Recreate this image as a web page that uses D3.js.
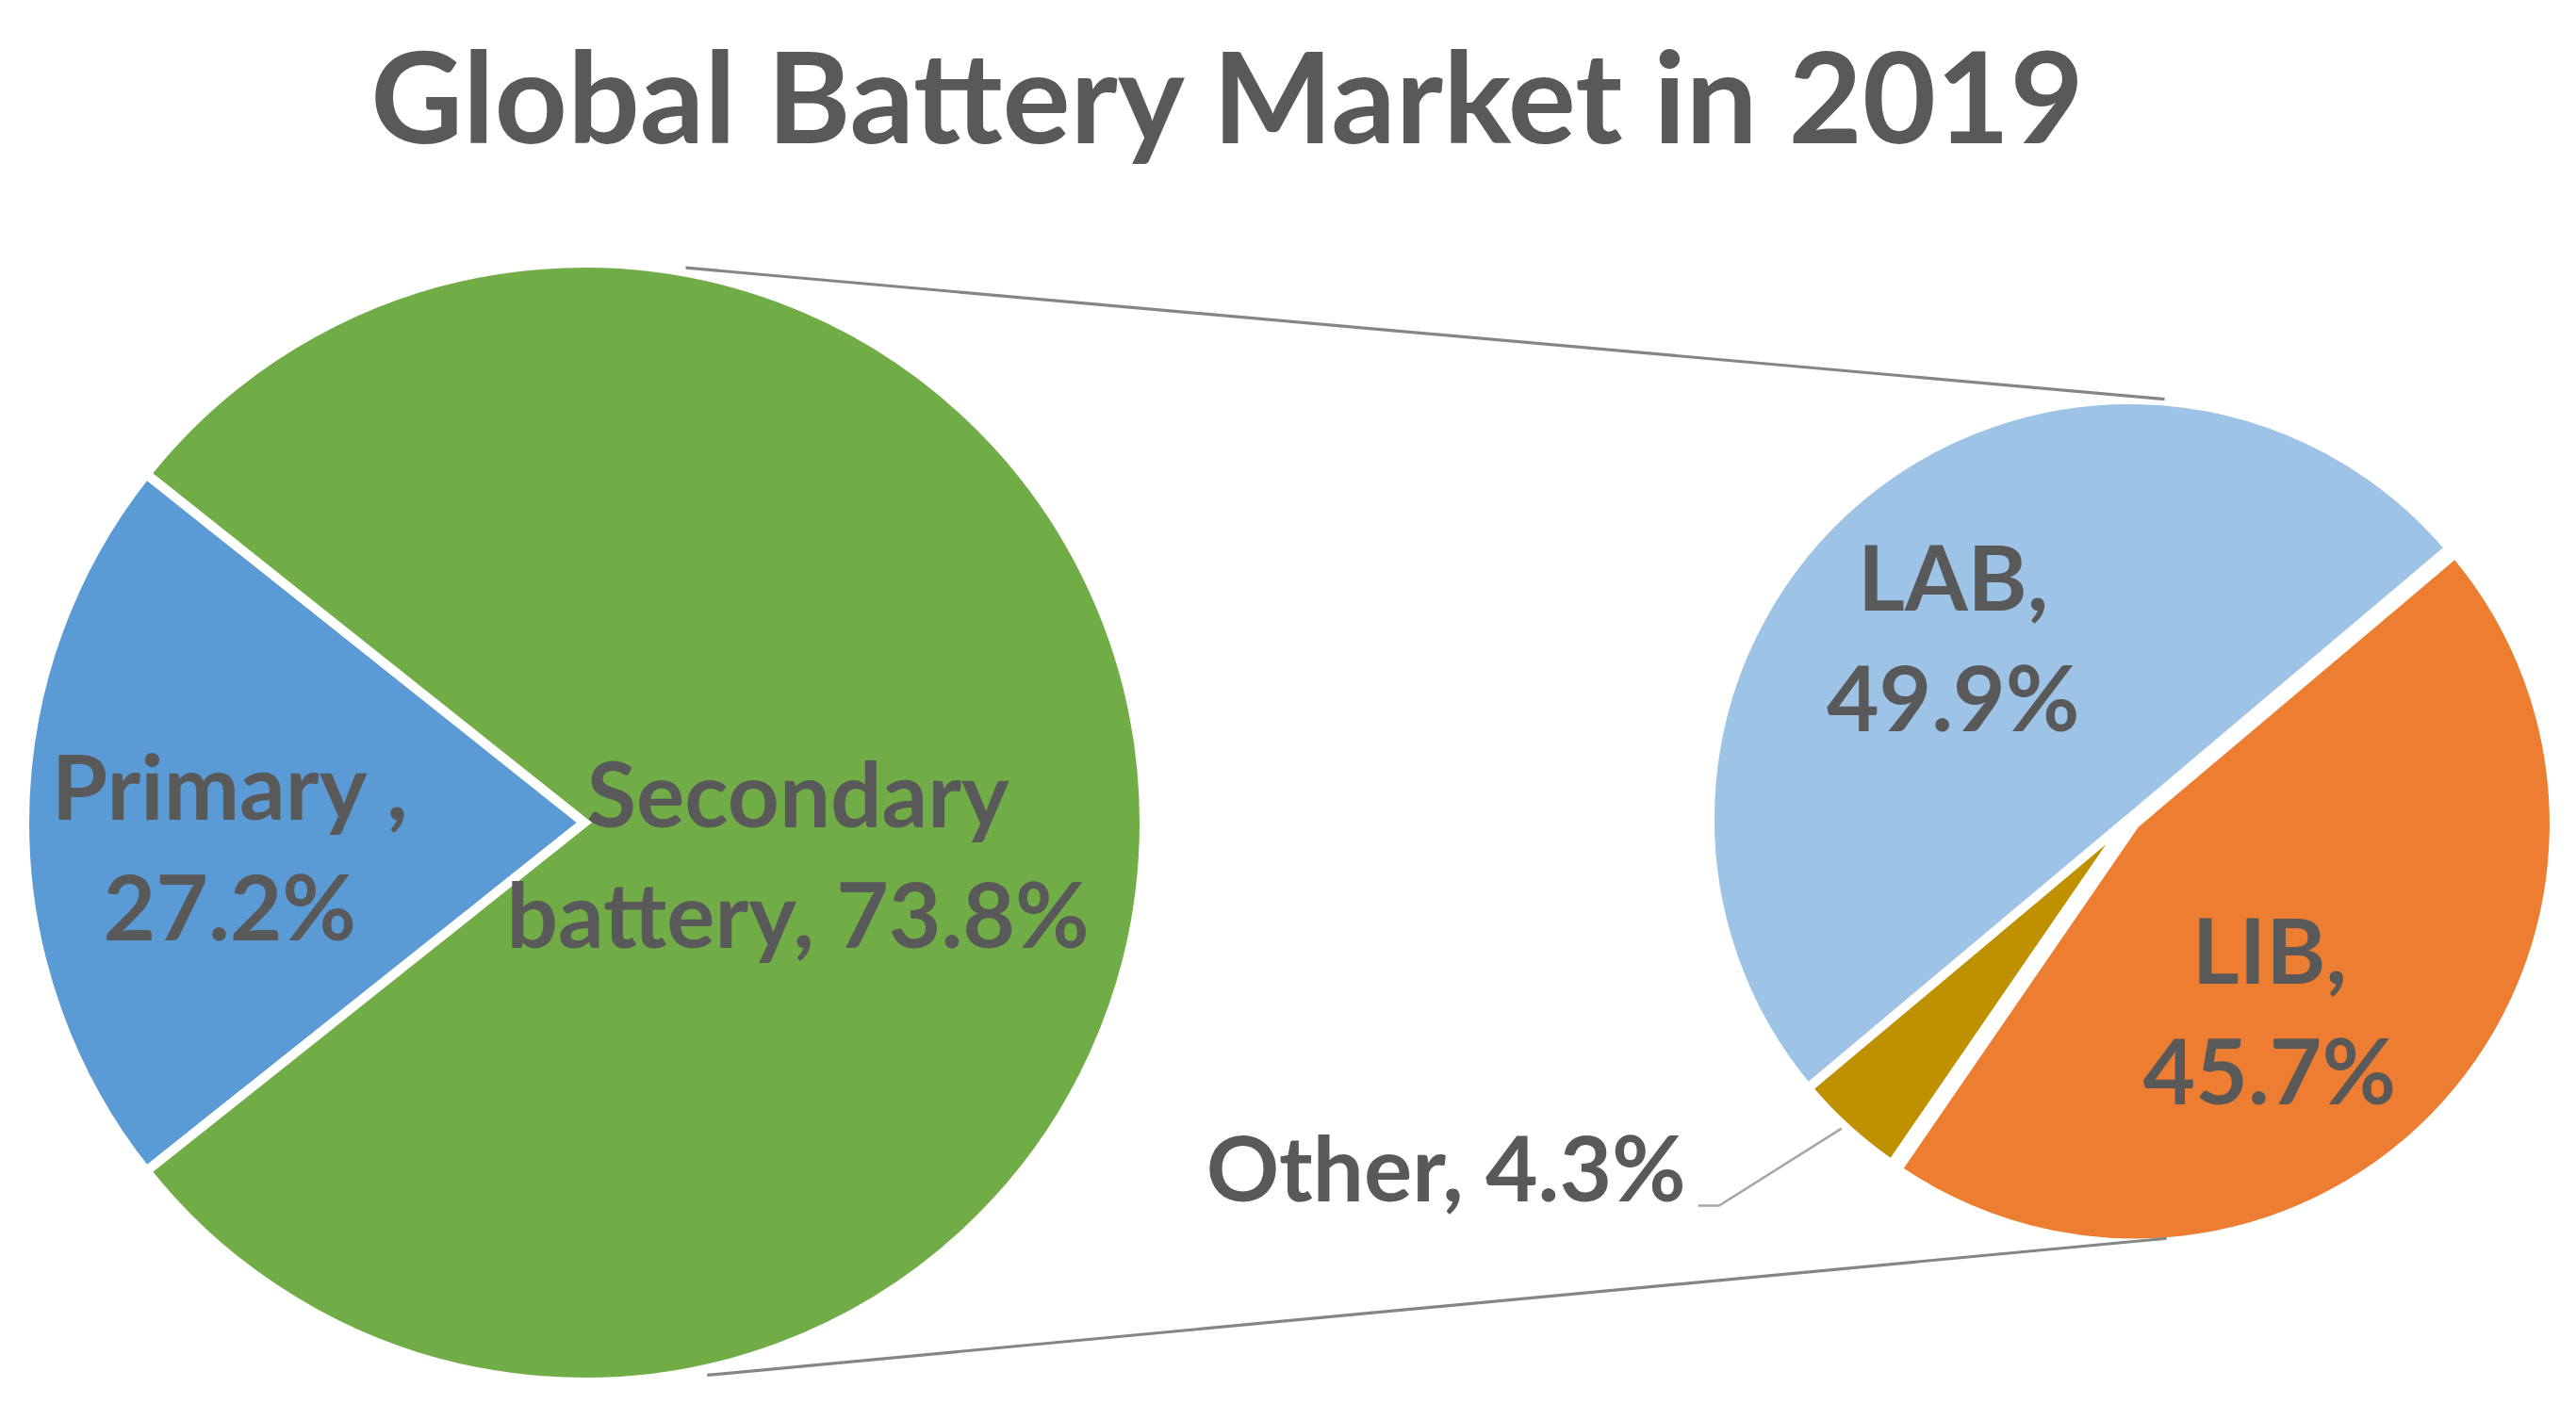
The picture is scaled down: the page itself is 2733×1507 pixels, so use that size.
<!DOCTYPE html>
<html><head><meta charset="utf-8">
<script src="https://cdn.jsdelivr.net/npm/d3@7"></script>
<style>html,body{margin:0;padding:0;background:#fff;overflow:hidden}</style>
</head><body><svg id="chart" width="2733" height="1507"></svg>
<script>
// ---- data ----
const chartTitle = "Global Battery Market in 2019";
const primaryValue = 27.2;
const mainLabelLines = [["Primary ,", "27.2%"], ["Secondary", "battery, 73.8%"]];
const subCategories = ["LAB", "LIB", "Other"];
const subValues = [49.9, 45.7, 4.3];
const subLabelLines = [["LAB,", "49.9%"], ["LIB,", "45.7%"], ["Other, 4.3%"]];
const mainColors = ["#5B9BD5", "#70AD47"];
const subColors = ["#9DC3E6", "#ED7D31", "#BF9000"];

// ---- layout ----
const W = 2733, H = 1507;
const deg = Math.PI / 180;
const big = {cx: 620, cy: 873, r: 594};
const small = {cx: 2259, cy: 869, r: 445};
const borderW = 10;
const textColor = "#595959";
const fontFam = "Lato, 'Open Sans', sans-serif";
const labelSize = 96, lineH = 128;

const svg = d3.select("#chart");
svg.append("rect").attr("width", W).attr("height", H).attr("fill", "#fff");

// title
svg.append("text").attr("x", 1302).attr("y", 152)
  .attr("text-anchor", "middle").attr("font-family", fontFam)
  .attr("font-weight", 700).attr("font-size", 135).attr("fill", textColor)
  .text(chartTitle);

// ---- main pie ----
const secondaryTotal = d3.sum(subValues);
const mainValues = [primaryValue, secondaryTotal];
const primaryHalf = Math.PI * primaryValue / (primaryValue + secondaryTotal);
const mainPie = d3.pie().sort(null).value(d => d)
  .startAngle(1.5 * Math.PI - primaryHalf).endAngle(3.5 * Math.PI - primaryHalf);
const mainArcs = mainPie(mainValues);
const bigArc = d3.arc().innerRadius(0).outerRadius(big.r);
const gBig = svg.append("g").attr("transform", `translate(${big.cx},${big.cy})`);
gBig.selectAll("path").data(mainArcs).join("path")
  .attr("d", bigArc).attr("fill", (d, i) => mainColors[i])
  .attr("stroke", "#fff").attr("stroke-width", borderW);

// ---- secondary pie ----
const subPie = d3.pie().sort(null).value(d => d)
  .startAngle(-130 * deg).endAngle(230 * deg);
const subArcs = subPie(subValues);
const smallArc = d3.arc().innerRadius(0).outerRadius(small.r);
const explode = [0, 8, 0];
const gSmall = svg.append("g").attr("transform", `translate(${small.cx},${small.cy})`);
function offs(d, e) {
  const a = (d.startAngle + d.endAngle) / 2;
  return [Math.sin(a) * e, -Math.cos(a) * e];
}
gSmall.selectAll("path").data(subArcs).join("path")
  .attr("d", smallArc)
  .attr("transform", (d, i) => { const o = offs(d, explode[i]); return `translate(${o[0]},${o[1]})`; })
  .attr("fill", (d, i) => subColors[i])
  .attr("stroke", "#fff").attr("stroke-width", borderW);

// ---- series lines (external tangents between the two pies) ----
(function () {
  const r1 = big.r - borderW / 2, r2 = small.r - borderW / 2;
  const dx = small.cx - big.cx, dy = small.cy - big.cy;
  const D = Math.hypot(dx, dy);
  const ux = dx / D, uy = dy / D;
  const c = (r1 - r2) / D, s = Math.sqrt(1 - c * c);
  [1, -1].forEach(sign => {
    const nx = c * ux + sign * s * uy, ny = c * uy - sign * s * ux;
    const gap = 7;
    const t1 = [big.cx + (r1 + gap) * nx, big.cy + (r1 + gap) * ny];
    const t2 = [small.cx + (r2 + gap) * nx, small.cy + (r2 + gap) * ny];
    const L = Math.hypot(t2[0] - t1[0], t2[1] - t1[1]);
    const ex = (t2[0] - t1[0]) / L, ey = (t2[1] - t1[1]) / L;
    const a = sign > 0 ? 55 : 75, b = 2;
    svg.append("line")
      .attr("x1", t1[0] + a * ex).attr("y1", t1[1] + a * ey)
      .attr("x2", t2[0] - b * ex).attr("y2", t2[1] - b * ey)
      .attr("stroke", "#858585").attr("stroke-width", 3.2);
  });
})();

// ---- labels ----
function twoLine(g, x, y, lines) {
  const t = g.append("text").attr("text-anchor", "middle")
    .attr("font-family", fontFam).attr("font-weight", 700)
    .attr("font-size", labelSize).attr("fill", textColor);
  lines.forEach((ln, i) => t.append("tspan").attr("x", x).attr("y", y + i * lineH).text(ln));
}
function centroidAt(d, R) {
  const a = (d.startAngle + d.endAngle) / 2;
  return [Math.sin(a) * R, -Math.cos(a) * R];
}
const mainLabelPos = [{k: 0.63, dx: -2, dy: -3}, {k: 0.39, dx: -5, dy: 5}];
mainArcs.forEach((d, i) => {
  const c = centroidAt(d, mainLabelPos[i].k * big.r);
  twoLine(svg, big.cx + c[0] + mainLabelPos[i].dx, big.cy + c[1] + mainLabelPos[i].dy, mainLabelLines[i]);
});
const subLabelPos = [{k: 0.61, dx: -12, dy: -13}, {k: 0.5, dx: -22, dy: 20}];
subArcs.slice(0, 2).forEach((d, i) => {
  const c = centroidAt(d, subLabelPos[i].k * small.r);
  const o = offs(d, explode[i]);
  twoLine(svg, small.cx + o[0] + c[0] + subLabelPos[i].dx, small.cy + o[1] + c[1] + subLabelPos[i].dy, subLabelLines[i]);
});

// Other label with leader line
(function () {
  const d = subArcs[2];
  const p = centroidAt(d, small.r + 3);
  const p0 = [small.cx + p[0] - 4, small.cy + p[1] - 3];
  const elbow = [p0[0] - 130, p0[1] + 82];
  const tail = [elbow[0] - 22, elbow[1]];
  svg.append("path")
    .attr("d", d3.line()([p0, elbow, tail]))
    .attr("fill", "none").attr("stroke", "#a6a6a6").attr("stroke-width", 2.5);
  svg.append("text").attr("x", tail[0] - 13).attr("y", tail[1] - 5)
    .attr("text-anchor", "end").attr("font-family", fontFam).attr("font-weight", 700)
    .attr("font-size", labelSize).attr("fill", textColor)
    .text(subLabelLines[2][0]);
})();
</script></body></html>
